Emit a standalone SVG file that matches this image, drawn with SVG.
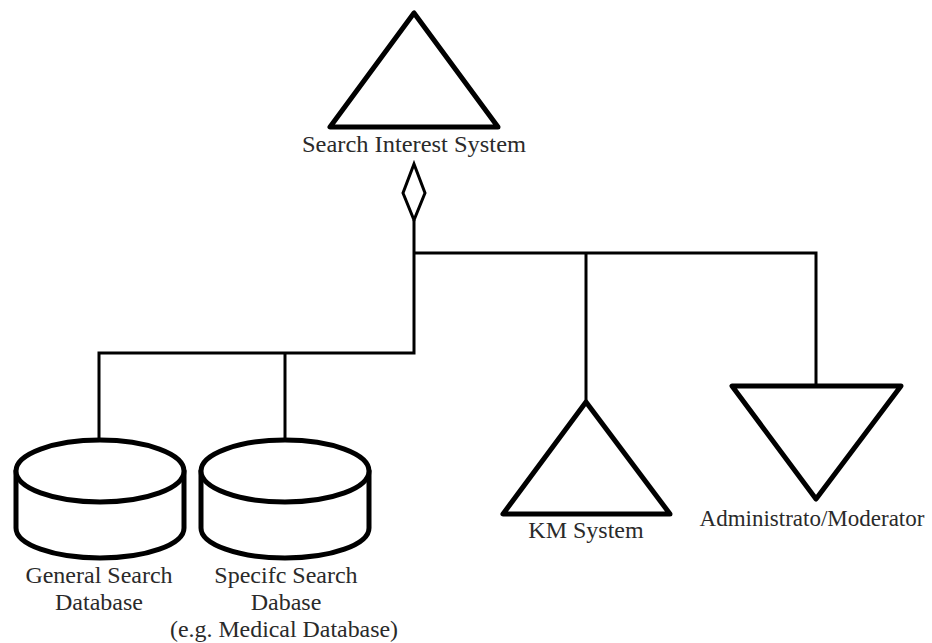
<svg xmlns="http://www.w3.org/2000/svg" width="932" height="643" viewBox="0 0 932 643">
  <style>
    .shape { fill: #ffffff; stroke: #000000; stroke-width: 5; stroke-linejoin: round; stroke-linecap: round; }
    .wire { fill: none; stroke: #000000; stroke-width: 3; }
    .diamond { fill: #ffffff; stroke: #000000; stroke-width: 3; stroke-linejoin: miter; }
    .label { font-family: "Liberation Serif", "Times New Roman", serif; font-size: 24px; fill: #2a2a2a; text-anchor: middle; }
  </style>
  <rect width="932" height="643" fill="#ffffff"/>

  <!-- connectors -->
  <g id="connectors">
    <polyline class="wire" points="414,220 414,353 99,353 99,439"/>
    <line class="wire" x1="285" y1="353" x2="285" y2="439"/>
    <polyline class="wire" points="414,253 816,253 816,386"/>
    <line class="wire" x1="586" y1="253" x2="586" y2="401"/>
    <polygon class="diamond" points="414,164 425,193 414,220 403,193"/>
  </g>

  <!-- aggregate system -->
  <g id="search-interest-system">
    <polygon class="shape" points="414,13 330,127 498,127"/>
    <text class="label" x="414" y="152" textLength="224" lengthAdjust="spacingAndGlyphs">Search Interest System</text>
  </g>

  <g id="general-search-database">
    <path class="shape" d="M16,471 L16,528 A84,30 0 0 0 184,528 L184,471"/>
    <ellipse class="shape" cx="100" cy="471" rx="84" ry="31"/>
    <text class="label" x="99" y="583">General Search</text>
    <text class="label" x="99" y="610">Database</text>
  </g>

  <g id="specific-search-database">
    <path class="shape" d="M201,471 L201,528 A84,30 0 0 0 369,528 L369,471"/>
    <ellipse class="shape" cx="285" cy="471" rx="84" ry="31"/>
    <text class="label" x="286" y="583">Specifc Search</text>
    <text class="label" x="286" y="610">Dabase</text>
    <text class="label" x="284" y="637" textLength="228" lengthAdjust="spacingAndGlyphs">(e.g. Medical Database)</text>
  </g>

  <g id="km-system">
    <polygon class="shape" points="586,402 503,514 670,514"/>
    <text class="label" x="586" y="538">KM System</text>
  </g>

  <g id="administrator-moderator">
    <polygon class="shape" points="732,386 901,386 816,499"/>
    <text class="label" x="812" y="526" style="font-size:23px">Administrato/Moderator</text>
  </g>
</svg>
